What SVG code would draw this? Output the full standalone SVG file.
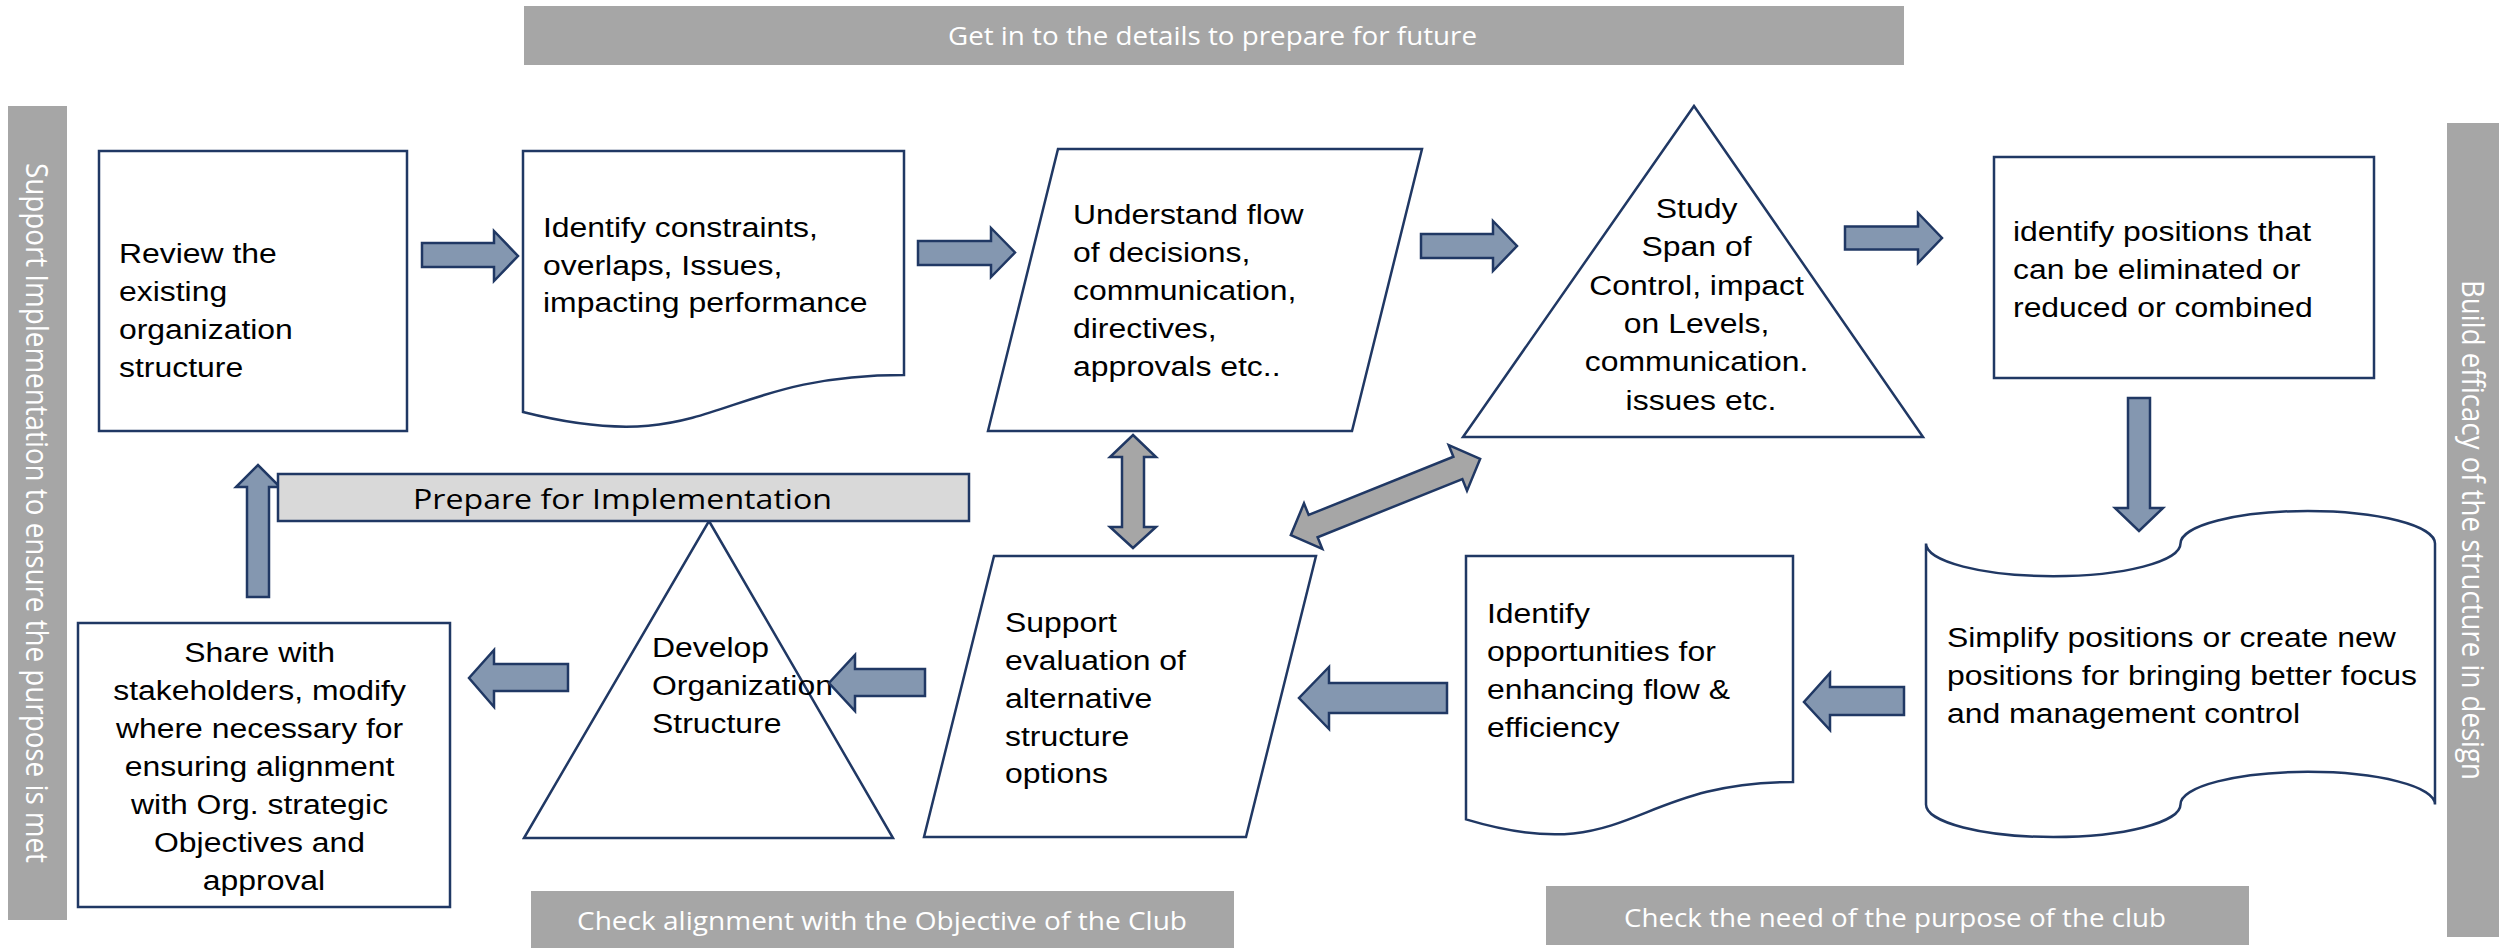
<svg xmlns="http://www.w3.org/2000/svg" width="2499" height="948" viewBox="0 0 2499 948">
  <style>
    .box { fill: #ffffff; stroke: #203864; stroke-width: 2.5; stroke-linejoin: miter; }
    .bar { fill: #d9d9d9; stroke: #203864; stroke-width: 2.5; }
    .arr { fill: #8497b0; stroke: #203864; stroke-width: 2.5; stroke-linejoin: miter; }
    .darr { fill: #a6a6a6; stroke: #203864; stroke-width: 2.5; stroke-linejoin: miter; }
    .band { fill: #a6a6a6; }
    .bandtxt { font-family: "Open Sans", "Liberation Sans", sans-serif; font-size: 25px; fill: #ffffff; }
    .sidetxt { font-family: "Open Sans", "Liberation Sans", sans-serif; font-size: 27px; fill: #ffffff; }
    .t { font-family: "Liberation Sans", Arial, sans-serif; font-size: 28px; fill: #000000; }
  </style>

  <!-- Side and banner labels -->
  <g id="band-top">
    <rect class="band" x="524" y="6" width="1380" height="59"/>
    <text class="bandtxt" x="948" y="45" textLength="529" lengthAdjust="spacingAndGlyphs">Get in to the details to prepare for future</text>
  </g>
  <g id="band-left">
    <rect class="band" x="8" y="106" width="59" height="814"/>
    <text class="sidetxt" transform="translate(25.5,513) rotate(90) scale(1,1.13)" x="0" y="0" text-anchor="middle" textLength="700" lengthAdjust="spacingAndGlyphs">Support Implementation to ensure the purpose is met</text>
  </g>
  <g id="band-right">
    <rect class="band" x="2447" y="123" width="59" height="814"/>
    <text class="sidetxt" transform="translate(2462,530) rotate(90) scale(1,1.13)" x="0" y="0" text-anchor="middle" textLength="500" lengthAdjust="spacingAndGlyphs">Build efficacy of the structure in design</text>
  </g>
  <g id="band-bottom-left">
    <rect class="band" x="531" y="891" width="703" height="57"/>
    <text class="bandtxt" x="577" y="930" textLength="610" lengthAdjust="spacingAndGlyphs">Check alignment with the Objective of the Club</text>
  </g>
  <g id="band-bottom-right">
    <rect class="band" x="1546" y="886" width="703" height="59"/>
    <text class="bandtxt" x="1624" y="927" textLength="542" lengthAdjust="spacingAndGlyphs">Check the need of the purpose of the club</text>
  </g>

  <!-- Process steps -->
  <g id="review">
    <rect class="box" x="99" y="151" width="308" height="280"/>
    <text class="t" transform="translate(119,0) scale(1.14,1)">
      <tspan x="0" y="263">Review the</tspan>
      <tspan x="0" y="301">existing</tspan>
      <tspan x="0" y="339">organization</tspan>
      <tspan x="0" y="377">structure</tspan>
    </text>
  </g>

  <g id="constraints">
    <path class="box" d="M523,151 H904 V375 C713.5,375 713.5,460 523,412 Z"/>
    <text class="t" transform="translate(543,0) scale(1.14,1)">
      <tspan x="0" y="237">Identify constraints,</tspan>
      <tspan x="0" y="275">overlaps, Issues,</tspan>
      <tspan x="0" y="312">impacting performance</tspan>
    </text>
  </g>

  <g id="flow">
    <polygon class="box" points="1058,149 1422,149 1352,431 988,431"/>
    <text class="t" transform="translate(1073,0) scale(1.14,1)">
      <tspan x="0" y="224">Understand flow</tspan>
      <tspan x="0" y="262">of decisions,</tspan>
      <tspan x="0" y="300">communication,</tspan>
      <tspan x="0" y="338">directives,</tspan>
      <tspan x="0" y="376">approvals etc..</tspan>
    </text>
  </g>

  <g id="span">
    <polygon class="box" points="1694,106 1923,437 1463,437"/>
    <text class="t" text-anchor="middle" transform="translate(1701,0) scale(1.14,1)">
      <tspan x="0" y="218">Study</tspan>
      <tspan x="0" y="256.5">Span of</tspan>
      <tspan x="0" y="295">Control, impact</tspan>
      <tspan x="0" y="333">on Levels,</tspan>
      <tspan x="0" y="371.5">communication.</tspan>
      <tspan x="0" y="410">issues etc.</tspan>
    </text>
  </g>

  <g id="positions">
    <rect class="box" x="1994" y="157" width="380" height="221"/>
    <text class="t" transform="translate(2013,0) scale(1.14,1)">
      <tspan x="0" y="241">identify positions that</tspan>
      <tspan x="0" y="279">can be eliminated or</tspan>
      <tspan x="0" y="317">reduced or combined</tspan>
    </text>
  </g>

  <g id="simplify">
    <path class="box" d="M1926,543.6 A127.25,32.6 0 0 0 2180.5,543.6 A127.25,32.6 0 0 1 2435,543.6 L2435,804.4 A127.25,32.6 0 0 0 2180.5,804.4 A127.25,32.6 0 0 1 1926,804.4 Z"/>
    <text class="t" transform="translate(1947,0) scale(1.14,1)">
      <tspan x="0" y="647">Simplify positions or create new</tspan>
      <tspan x="0" y="685">positions for bringing better focus</tspan>
      <tspan x="0" y="723">and management control</tspan>
    </text>
  </g>

  <g id="opportunities">
    <path class="box" d="M1466,556 H1793 V782 C1629.5,782 1629.5,868.3 1466,819.4 Z"/>
    <text class="t" transform="translate(1487,0) scale(1.14,1)">
      <tspan x="0" y="623">Identify</tspan>
      <tspan x="0" y="661">opportunities for</tspan>
      <tspan x="0" y="699">enhancing flow &amp;</tspan>
      <tspan x="0" y="737">efficiency</tspan>
    </text>
  </g>

  <g id="alternatives">
    <polygon class="box" points="994,556 1316,556 1246,837 924,837"/>
    <text class="t" transform="translate(1005,0) scale(1.14,1)">
      <tspan x="0" y="632">Support</tspan>
      <tspan x="0" y="670">evaluation of</tspan>
      <tspan x="0" y="708">alternative</tspan>
      <tspan x="0" y="746">structure</tspan>
      <tspan x="0" y="783">options</tspan>
    </text>
  </g>

  <g id="develop">
    <polygon class="box" points="709,521 893,838 524,838"/>
    <text class="t" transform="translate(652,0) scale(1.14,1)">
      <tspan x="0" y="657">Develop</tspan>
      <tspan x="0" y="695">Organization</tspan>
      <tspan x="0" y="733">Structure</tspan>
    </text>
  </g>

  <g id="share">
    <rect class="box" x="78" y="623" width="372" height="284"/>
    <text class="t" text-anchor="middle" transform="translate(264,0) scale(1.14,1)">
      <tspan x="0" y="662">Share with</tspan>
      <tspan x="0" y="700">stakeholders, modify</tspan>
      <tspan x="0" y="738">where necessary for</tspan>
      <tspan x="0" y="776">ensuring alignment</tspan>
      <tspan x="0" y="814">with Org. strategic</tspan>
      <tspan x="0" y="852">Objectives and</tspan>
      <tspan x="0" y="890">approval</tspan>
    </text>
  </g>

  <!-- Block arrows between the steps -->
  <g id="connectors">
    <polygon class="arr" points="422,243 494,243 494,231 518,256 494,281 494,267 422,267"/>
    <polygon class="arr" points="918,241 991,241 991,228 1015,252.5 991,277 991,265 918,265"/>
    <polygon class="arr" points="1421,234 1493,234 1493,221 1517,246 1493,271 1493,258 1421,258"/>
    <polygon class="arr" points="1845,226.5 1918,226.5 1918,213 1942,238 1918,263 1918,249.5 1845,249.5"/>
    <polygon class="arr" points="2128,398 2150,398 2150,508 2163,508 2139,531 2115,508 2128,508"/>
    <polygon class="arr" points="1904,687 1830,687 1830,673 1804,702 1830,730 1830,715 1904,715"/>
    <polygon class="arr" points="1447,683 1329,683 1329,667 1299,698 1329,729 1329,713 1447,713"/>
    <polygon class="arr" points="925,669 855,669 855,655 829,683 855,711 855,696 925,696"/>
    <polygon class="arr" points="568,664 494,664 494,650 469,678 494,707 494,691 568,691"/>
    <polygon class="arr" points="247,597 247,487 236,487 258,465 280,487 269,487 269,597"/>
    <polygon class="darr" points="1133,435 1156,457 1144,457 1144,527 1156,527 1133,548 1110,527 1122,527 1122,457 1110,457"/>
    <polygon class="darr" transform="translate(1385.5,497) rotate(-21.9)" points="-102,0 -78,-24.5 -78,-12 78,-12 78,-24.5 102,0 78,24.5 78,12 -78,12 -78,24.5"/>
  </g>

  <g id="prepare">
    <rect class="bar" x="278" y="474" width="691" height="47"/>
    <text x="413" y="509" font-family="Open Sans, Liberation Sans, sans-serif" font-size="27" fill="#000000" textLength="419" lengthAdjust="spacingAndGlyphs">Prepare for Implementation</text>
  </g>
</svg>
